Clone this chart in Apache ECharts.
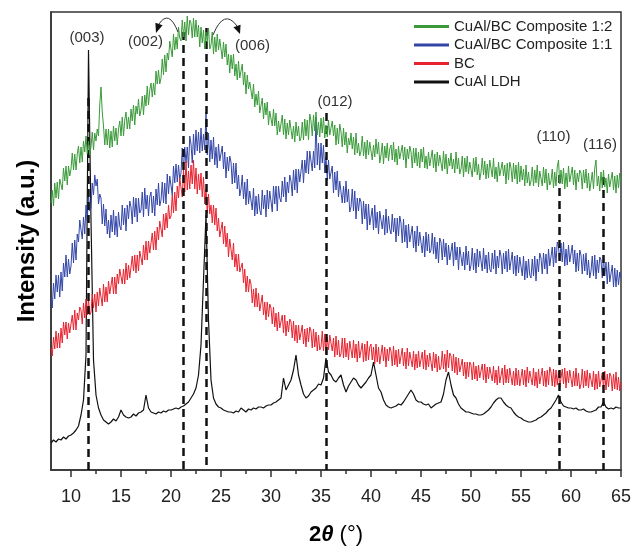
<!DOCTYPE html>
<html>
<head>
<meta charset="utf-8">
<script src="https://cdn.jsdelivr.net/npm/echarts@6/dist/echarts.min.js"></script>
<style>html,body{margin:0;padding:0;background:#fff}#chart{width:631px;height:546px}</style>
</head>
<body>
<div id="chart"></div>
<script>
// 2θ sampling grids (degrees) from 8 to 65
const twoThetaFine = Array.from({length: 457}, (_, i) => 8 + i * 0.125);
const twoThetaCoarse = Array.from({length: 229}, (_, i) => 8 + i * 0.25);

// Intensities (a.u.)
// CuAl LDH: one value per 0.25°
const cuAlLDH = [
27,30,28,31, 30,33,31,34, 35,37,40,44, 55,70,115,420, 250,110,75,62, 55,50,48,46,
48,51,49,53, 60,55,53,52, 53,56,54,57, 58,60,75,62, 58,57,56,58, 57,59,58,60,
60,61,62,61, 63,64,66,68, 72,76,82,95, 125,190,255,150, 90,72,66,63, 62,60,59,58,
58,57,59,58, 62,60,58,61, 60,62,61,63, 63,62,64,65, 65,67,68,70, 72,92,80,85,
90,100,115,95, 85,76,72,74, 78,80,82,86, 85,92,112,98, 95,90,88,92, 95,85,78,84,
88,92,90,85, 82,85,88,92, 95,108,95,82, 78,70,65,63, 62,63,64,66, 65,68,72,76,
80,76,70,68, 68,66,65,66, 62,64,66,67, 68,76,90,98, 85,75,72,66, 62,60,58,58,
57,56,56,55, 55,56,58,60, 63,67,70,72, 72,68,65,63, 62,58,55,53, 52,50,49,48,
48,49,50,52, 53,55,57,60, 62,66,70,75, 68,64,63,62, 62,61,62,60, 60,61,59,58,
58,59,60,63, 63,68,63,61, 62,61,63,62, 62
];
// BC: one value per 0.125°
const bc = [
122,114,133,121,139,122,137,122, 142,127,148,135,148,131,147,137, 139,155,140,160,140,157,150,163,
160,146,167,152,171,155,171,155, 158,176,162,176,158,178,164,182, 180,164,186,168,183,168,189,176,
177,193,176,193,176,196,186,201, 201,186,201,186,207,190,205,192, 194,214,199,215,197,215,199,219,
218,205,225,210,229,210,229,217, 218,237,220,239,220,243,230,249, 248,233,256,240,257,242,265,251,
254,275,257,278,259,284,272,292, 291,273,300,278,309,280,299,281, 305,286,310,281,302,276,296,280,
297,273,293,266,281,257,276,256, 265,247,265,245,262,239,252,233, 234,248,226,244,223,237,213,231,
229,210,227,203,216,199,216,198, 196,207,187,201,178,194,178,191, 186,167,181,163,182,163,177,159,
159,175,155,168,150,168,153,166, 162,146,163,143,157,139,158,142, 142,155,137,155,134,149,138,151,
148,132,149,129,145,127,145,130, 129,145,126,141,123,142,128,143, 139,122,141,123,138,119,135,120,
123,139,119,136,116,133,120,135, 134,119,132,113,134,115,130,113, 116,132,112,132,113,127,110,129,
128,112,130,112,126,108,129,112, 113,127,108,126,109,129,110,123, 126,110,123,106,126,108,123,106,
108,125,109,123,103,121,109,123, 119,104,124,105,120,103,121,106, 107,122,104,118,101,122,104,118,
118,103,119,100,116,102,119,103, 103,118,101,120,100,115,103,117, 115,99,118,102,116,98,114,100,
103,119,101,116,98,120,102,117, 114,99,116,97,113,95,112,98, 98,111,94,108,91,108,93,108,
105,90,108,91,104,89,105,92, 91,106,90,106,87,103,91,103, 103,89,104,87,100,85,104,87,
89,102,85,105,87,101,87,102, 100,85,99,84,102,85,100,84, 86,101,85,100,83,103,87,99,
100,85,102,84,98,82,101,86, 87,102,84,99,83,100,85,103, 98,84,101,83,100,85,99,83,
85,101,86,102,82,99,87,100, 100,83,99,84,102,84,97,81, 86,101,82,99,84,100,82,97,
97,83,99,80,96,81,99,83, 83,97,81,99,80,96,83,97, 94,79,96,81,98,80,93,79, 88
];
// CuAl/BC Composite 1:1: one value per 0.125°
const composite11 = [
172,162,187,171,195,178,195,173, 198,179,207,193,215,193,211,196, 204,227,207,230,210,236,228,250,
250,231,253,236,265,249,275,259, 262,287,275,295,284,291,266,276, 272,246,266,244,261,236,250,232,
255,238,260,235,254,233,258,244, 240,265,245,262,239,265,251,269, 263,246,273,253,272,248,272,257,
260,278,253,282,261,275,254,273, 278,257,274,254,281,265,287,264, 270,288,267,287,266,296,276,294,
294,275,304,287,306,288,305,291, 297,322,299,323,307,323,302,334, 326,307,336,315,340,319,338,317,
342,319,336,320,358,315,337,308, 330,311,333,305,323,302,326,309, 307,324,301,318,292,313,299,314,
308,286,307,287,307,281,295,274, 281,295,271,288,265,291,266,279, 281,260,282,254,274,256,276,260,
255,280,261,275,253,280,261,279, 277,258,284,266,284,259,284,272, 268,289,273,293,268,288,277,295,
289,274,300,280,301,277,301,288, 288,310,287,310,297,319,296,319, 319,299,319,302,353,305,327,300,
327,307,325,297,313,290,310,291, 290,304,277,298,280,299,273,289, 290,267,284,267,289,268,281,258,
263,281,259,279,251,272,259,272, 268,246,269,251,266,240,266,245, 246,262,240,265,242,258,236,259,
261,241,255,235,261,237,254,241, 236,256,238,252,228,252,234,254, 247,227,251,228,245,222,246,228,
227,244,222,239,218,244,224,238, 237,217,234,213,238,219,236,217, 220,237,216,233,211,228,207,232,
228,210,231,213,227,205,225,210, 210,227,204,228,210,223,200,223, 223,204,218,200,224,205,219,199,
205,222,200,217,197,221,203,219, 218,199,222,201,215,197,218,201, 198,217,201,220,196,214,202,220,
214,196,217,201,219,198,221,200, 202,218,196,214,194,215,197,213, 212,194,214,190,209,192,211,195,
192,211,194,214,189,211,198,217, 212,196,217,201,216,196,221,204, 205,223,203,223,207,228,223,209,
227,208,228,204,221,205,225,208, 206,225,206,220,198,217,199,220, 215,196,216,199,217,195,210,192,
199,214,194,215,191,210,197,213, 210,192,213,194,208,186,208,188, 189,205,183,202,183,200,185,198, 192
];
// CuAl/BC Composite 1:2: one value per 0.125°
const composite12 = [
267,280,264,287,272,288,271,291, 290,280,302,289,304,285,304,294, 301,317,300,316,300,316,324,307,
323,308,329,318,334,316,329,315, 323,338,320,337,329,341,334,365, 383,358,344,325,341,325,341,322,
339,323,344,329,342,325,341,349, 334,353,334,350,358,341,353,341, 361,349,365,345,364,356,371,354,
360,374,355,375,364,384,365,380, 387,373,387,375,399,386,400,386, 392,411,395,415,398,417,410,429,
427,413,436,420,433,421,443,432, 429,450,433,448,429,454,435,450, 447,432,452,433,450,433,445,423,
443,427,440,421,438,428,442,421, 425,438,416,433,418,436,420,431, 429,411,428,413,426,405,416,397,
415,401,416,394,406,390,409,392, 393,406,385,398,376,395,381,388, 389,371,386,363,376,365,379,357,
357,372,351,367,355,368,345,359, 360,344,361,344,357,335,349,338, 340,355,335,351,331,347,335,350,
348,331,344,328,348,334,344,329, 332,348,330,351,334,350,330,356, 349,334,355,339,358,335,348,333,
352,337,353,332,345,333,350,335, 333,349,334,345,325,342,326,346, 338,323,342,325,338,317,332,325,
337,321,333,315,337,317,327,314, 319,334,314,328,311,330,315,328, 327,310,325,313,331,316,328,307,
315,327,306,324,312,327,309,321, 325,310,328,308,321,305,324,311, 309,325,310,323,302,321,311,324,
318,302,322,307,322,304,318,302, 321,308,323,302,314,301,318,304, 305,320,302,316,298,318,304,315,
314,299,319,301,316,296,312,304, 317,301,311,297,318,301,312,296, 301,314,293,312,298,314,296,308,
310,293,312,298,313,295,306,290, 298,312,295,309,291,306,292,310, 308,293,312,291,303,288,308,294,
292,308,294,305,286,307,290,308, 302,288,307,291,305,286,308,288, 304,290,301,284,305,287,298,284,
289,303,284,300,287,305,283,299, 299,284,303,287,301,280,297,285, 289,301,282,298,284,303,310,286,
300,286,302,281,297,283,304,288, 287,303,285,300,280,297,288,300, 297,281,300,287,301,282,297,279,
288,298,281,302,310,284,294,279, 298,282,300,283,292,277,296,283, 284,298,280,294,277,295,282,297, 288
];

const seriesNames = ['CuAl/BC Composite 1:2', 'CuAl/BC Composite 1:1', 'BC', 'CuAl LDH'];
const peakPositions = [11.7, 21.2, 23.5, 35.5, 58.8, 63.2];
const peakLabels = ['(003)', '(002)', '(006)', '(012)', '(110)', '(116)'];
const xTickValues = [10, 15, 20, 25, 30, 35, 40, 45, 50, 55, 60, 65];
const xMinorTickValues = [12.5, 17.5, 22.5, 27.5, 32.5, 37.5, 42.5, 47.5, 52.5, 57.5, 62.5];

const FONT = '"Liberation Sans", Arial, sans-serif';
const pair = (grid, arr) => grid.map((x, i) => [x, arr[i]]);

// annotation layout (data coordinates)
const dashTops = [372, 438, 442, 357, 295, 293];
const labelPos = [[11.6, 432], [17.45, 428], [28.15, 424], [36.4, 368], [58.25, 333], [62.9, 325]];

const chart = echarts.init(document.getElementById('chart'), null, {renderer: 'canvas'});
const lineSeries = (name, grid, arr, color, z, w) => ({
  name, type: 'line', data: pair(grid, arr), showSymbol: false, symbol: 'none',
  lineStyle: {color, width: w}, itemStyle: {color}, z, animation: false, silent: true
});

chart.setOption({
  animation: false,
  grid: {left: 51, right: 10, top: 12, bottom: 76, outerBoundsMode: 'none', containLabel: false,
    show: true, borderColor: '#333', borderWidth: 1.5, backgroundColor: 'transparent'},
  legend: {
    orient: 'vertical', left: 409, top: 14, itemWidth: 35, itemHeight: 3, itemGap: 3.5, icon: 'rect',
    data: seriesNames,
    textStyle: {fontFamily: FONT, fontSize: 15, color: '#222'}
  },
  xAxis: [{
    type: 'value', min: 8, max: 65,
    name: '{b|2}{bi|θ}{n| (°)}', nameLocation: 'middle', nameGap: 54,
    nameTextStyle: {rich: {
      b: {fontFamily: FONT, fontSize: 22, fontWeight: 'bold', color: '#000'},
      bi: {fontFamily: FONT, fontSize: 22, fontWeight: 'bold', fontStyle: 'italic', color: '#000'},
      n: {fontFamily: FONT, fontSize: 22, color: '#000'}
    }},
    axisLine: {lineStyle: {color: '#333', width: 1.5}},
    axisTick: {show: true, length: 7, customValues: xTickValues, lineStyle: {color: '#333', width: 1.5}},
    axisLabel: {customValues: xTickValues, fontFamily: FONT, fontSize: 18, color: '#222', margin: 18},
    splitLine: {show: false}
  }, {
    type: 'value', min: 8, max: 65, position: 'bottom',
    axisLine: {show: false},
    axisTick: {show: true, length: 4, customValues: xMinorTickValues, lineStyle: {color: '#333', width: 1.5}},
    axisLabel: {show: false}, splitLine: {show: false}
  }],
  yAxis: {
    type: 'value', min: 0, max: 458,
    name: 'Intensity (a.u.)', nameLocation: 'middle', nameGap: 12,
    nameTextStyle: {fontFamily: FONT, fontSize: 24, fontWeight: 'bold', color: '#000'},
    axisLine: {show: true, lineStyle: {color: '#333', width: 1.5}},
    axisTick: {show: false}, axisLabel: {show: false}, splitLine: {show: false}
  },
  series: [
    lineSeries('CuAl LDH', twoThetaCoarse, cuAlLDH, '#111111', 2, 1.2),
    lineSeries('CuAl/BC Composite 1:1', twoThetaFine, composite11, '#3346a8', 3, 1),
    lineSeries('BC', twoThetaFine, bc, '#e8222e', 4, 1),
    lineSeries('CuAl/BC Composite 1:2', twoThetaFine, composite12, '#3a9a3a', 5, 1),
    {
      name: 'annotations', type: 'line', data: [], z: 10, silent: true, animation: false,
      markLine: {
        silent: true, symbol: ['none', 'none'], animation: false,
        lineStyle: {color: '#111', width: 2.5, type: [8, 5]},
        label: {show: false},
        data: peakPositions.map((p, i) => [{coord: [p, dashTops[i]]}, {coord: [p, 0]}])
      },
      markPoint: {
        silent: true, symbol: 'circle', symbolSize: 0, animation: false,
        label: {show: true, position: 'inside', formatter: p => p.name, fontFamily: FONT, fontSize: 15, color: '#333'},
        data: peakLabels.map((t, i) => ({name: t, coord: labelPos[i]}))
      }
    }
  ]
});

// curved arrows from the (002) and (006) dashed lines to their labels
const toPx = p => chart.convertToPixel({gridIndex: 0}, p);
const arrowSpecs = [
  {start: [20.7, 438], ctrl: [19.8, 461], end: [18.8, 446], tip: [18.5, 437]},
  {start: [24.2, 435], ctrl: [25.3, 462], end: [26.6, 444], tip: [26.9, 436]}
];
const graphics = [];
arrowSpecs.forEach(a => {
  const s = toPx(a.start), c = toPx(a.ctrl), e = toPx(a.end), t = toPx(a.tip);
  graphics.push({type: 'bezierCurve', silent: true, z: 20,
    shape: {x1: s[0], y1: s[1], cpx1: c[0], cpy1: c[1], x2: e[0], y2: e[1]},
    style: {stroke: '#333', lineWidth: 1, fill: null}});
  const dx = t[0] - e[0], dy = t[1] - e[1], len = Math.hypot(dx, dy) || 1;
  const nx = -dy / len * 3.8, ny = dx / len * 3.8;
  graphics.push({type: 'polygon', silent: true, z: 20,
    shape: {points: [[t[0], t[1]], [e[0] + nx, e[1] + ny], [e[0] - nx, e[1] - ny]]},
    style: {fill: '#111'}});
});
chart.setOption({graphic: graphics});
</script>
</body>
</html>
